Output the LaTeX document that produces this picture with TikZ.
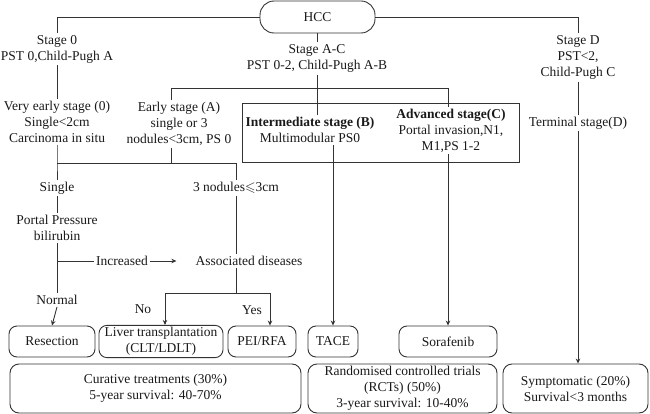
\documentclass[tikz,border=0pt]{standalone}
\usepackage{fontspec}
\setmainfont{Liberation Serif}
\usepackage{amssymb}
\usetikzlibrary{arrows.meta}
\begin{document}
\begin{tikzpicture}[x=1pt,y=-1pt,
  every node/.style={font=\fontsize{13.5}{16}\selectfont, align=center, inner sep=2pt, text=black!90},
  conn/.style={draw=black!80, line width=0.9pt},
  arr/.style={conn, -{Stealth[length=5pt,width=4.5pt]}},
  tbox/.style={draw=black!80, line width=0.9pt, rounded corners=8pt, minimum height=31pt, inner xsep=0pt},
  rbox/.style={draw=black!80, line width=0.9pt, rounded corners=9pt, minimum height=49pt, inner xsep=0pt},
  sqbox/.style={draw=black!80, line width=0.9pt},
]
\useasboundingbox (0,0) rectangle (650,414);

% top
\node[draw=black!80, line width=0.9pt, rounded corners=14pt, minimum width=115pt, minimum height=32pt] (hcc) at (317.5,17) {HCC};
\node (s0) at (57,49) {Stage 0\\PST 0,Child-Pugh A};
\node (sac) at (317,58.5) {Stage A-C\\PST 0-2, Child-Pugh A-B};
\node (sd) at (578,57.5) {Stage D\\PST<2,\\Child-Pugh C};

% stages
\node (vearly) at (57,122) {Very early stage (0)\\Single<2cm\\Carcinoma in situ};
\node (early) at (179,124) {Early stage (A)\\single or 3\\nodules<3cm, PS 0};
\node[sqbox, minimum width=277pt, minimum height=59pt] (bc) at (380.5,132.5) {};
\node (interm) at (310,130) {\textbf{Intermediate stage (B)}\\Multimodular PS0};
\node (adv) at (451,130.5) {\textbf{Advanced stage(C)}\\Portal invasion,N1,\\M1,PS 1-2};
\node (term) at (578,123) {Terminal stage(D)};

% early branch
\node (single) at (57,188) {Single};
\node (three) at (236,188) {3 nodules$\leqslant$3cm};
\node (portal) at (57,228) {Portal Pressure\\bilirubin};
\node (incr) at (122,261) {Increased};
\node (assoc) at (249,261) {Associated diseases};
\node (normal) at (57,300) {Normal};
\node (no) at (143,309) {No};
\node (yes) at (252,310) {Yes};

% treatments
\node[tbox, minimum width=86pt] (res) at (52,341.5) {Resection};
\node[tbox, minimum width=124pt] (liver) at (161,341.5) {Liver transplantation\\(CLT/LDLT)};
\node[tbox, minimum width=68pt] (pei) at (262,341.5) {PEI/RFA};
\node[tbox, minimum width=50pt] (tace) at (333,341.5) {TACE};
\node[tbox, minimum width=98pt] (sor) at (448,341.5) {Sorafenib};

% outcomes
\node[rbox, minimum width=291pt] (cur) at (155.5,388.5) {Curative treatments (30\%)\\5-year survival: 40-70\%};
\node[rbox, minimum width=189pt] (rct) at (402.5,388.5) {Randomised controlled trials\\(RCTs) (50\%)\\3-year survival: 10-40\%};
\node[rbox, minimum width=145pt] (symp) at (575.5,388.5) {Symptomatic (20\%)\\Survival<3 months};

% connectors
\draw[conn] (hcc.west) -| (s0.north);
\draw[conn] (hcc.east) -| (sd.north);
\draw[conn] (hcc.south) -- (hcc.south |- sac.north);
\coordinate (eTop) at (171,88);
\coordinate (aTop) at (448,88);
\draw[conn] (early.north -| eTop) -- (eTop) -- (aTop) -- (aTop |- adv.north);
\draw[conn] (sac.south) -- (sac.south |- interm.north);
\draw[conn] (sd.south) -- (term.north);
\draw[conn] (s0.south) -- (vearly.north);
\coordinate (jL) at (57,163);
\coordinate (jR) at (236,163);
\draw[conn] (vearly.south) -- (jL) -- (single.north);
\draw[conn] (jL) -- (jR) -- (three.north);
\draw[conn] (early.south -| eTop) -- (eTop |- jL);
\draw[conn] (single.south) -- (portal.north);
\draw[conn] (portal.south) -- (normal.north);
\draw[conn] (portal.south |- incr.west) -- (incr.west);
\draw[arr, shorten >=17pt] (incr.east) -- (assoc.west);
\draw[arr] (normal.south) -- (res.north);
\draw[conn] (three.south) -- (three.south |- assoc.north);
\coordinate (jA) at (236,293);
\coordinate (jNo) at (165,293);
\coordinate (jYes) at (270,293);
\draw[conn] (assoc.south -| jA) -- (jA);
\draw[arr] (jA) -- (jNo) -- (jNo |- liver.north);
\draw[arr] (jA) -- (jYes) -- (jYes |- pei.north);
\draw[arr] (interm.south -| tace) -- (tace.north);
\draw[arr] (adv.south -| sor) -- (sor.north);
\draw[arr] (term.south) -- (term.south |- symp.north);
\end{tikzpicture}
\end{document}
